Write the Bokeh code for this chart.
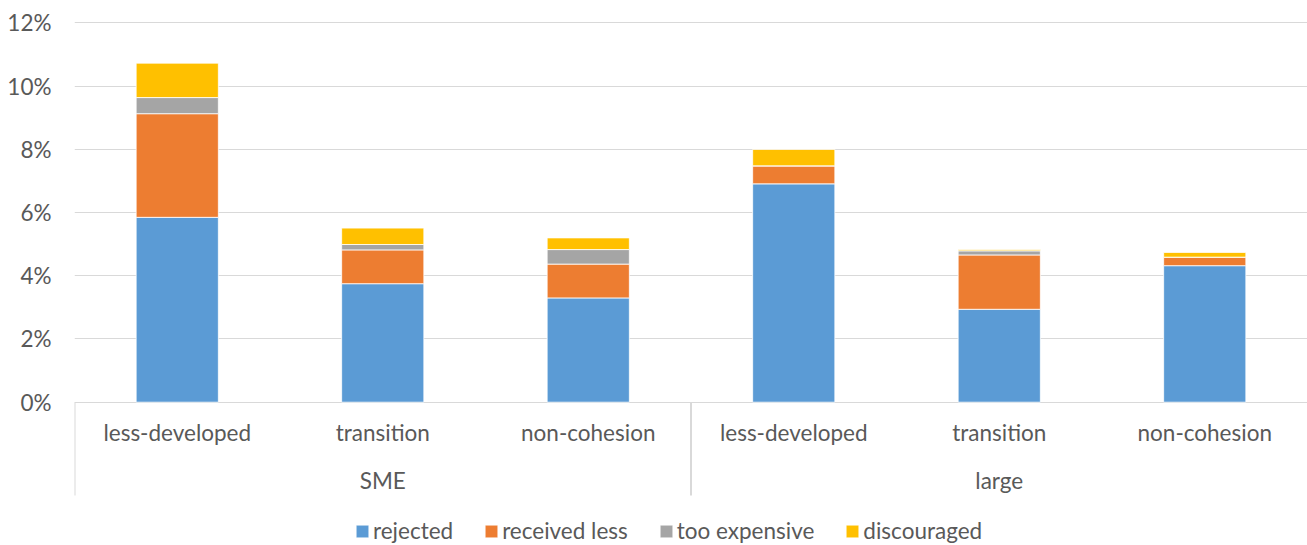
from bokeh.plotting import figure
from bokeh.models import (FactorRange, Range1d, FixedTicker, PrintfTickFormatter,
                          ColumnDataSource, Legend, LegendItem)
from bokeh.core.properties import value
from bokeh.embed import file_html
from bokeh.resources import INLINE

# Firm size groups and regional categories
groups = ["SME", "large"]
regions = ["less-developed", "transition", "non-cohesion"]

# Share of firms (%) by financing obstacle
series = ["rejected", "received less", "too expensive", "discouraged"]
rejected = [5.85, 3.75, 3.30, 6.91, 2.94, 4.32]
received_less = [3.28, 1.07, 1.07, 0.57, 1.72, 0.27]
too_expensive = [0.51, 0.17, 0.46, 0.00, 0.13, 0.00]
discouraged = [1.09, 0.52, 0.37, 0.52, 0.04, 0.15]

y_ticks = [0, 2, 4, 6, 8, 10, 12]

colors = ["#5B9BD5", "#ED7D31", "#A5A5A5", "#FFC000"]
TEXT = "#595959"
GRID = "#D9D9D9"
FONT = "Lato"
FS = "22.5px"

factors = [(g, r) for g in groups for r in regions]

source = ColumnDataSource(data=dict(
    x=factors,
    rejected=rejected,
    received_less=received_less,
    too_expensive=too_expensive,
    discouraged=discouraged,
))

x_range = FactorRange(*factors, range_padding=0, factor_padding=0,
                      group_padding=0, subgroup_padding=0)

p = figure(width=1307, height=545, x_range=x_range,
           y_range=Range1d(-4.535, 12.712),
           output_backend="svg", toolbar_location=None,
           min_border_left=74, min_border_right=0,
           min_border_top=0, min_border_bottom=0)
p.title.visible = False
p.outline_line_color = None
p.background_fill_color = "white"
p.border_fill_color = "white"

keys = ["rejected", "received_less", "too_expensive", "discouraged"]
renderers = p.vbar_stack(keys, x="x", width=0.4, source=source,
                         color=colors, line_color="white", line_width=0.8)

# Value axis with percent labels
p.yaxis.ticker = FixedTicker(ticks=y_ticks)
p.yaxis.formatter = PrintfTickFormatter(format="%d%%")
p.yaxis.axis_line_color = None
p.yaxis.major_tick_line_color = None
p.yaxis.major_tick_out = 0
p.yaxis.major_tick_in = 0
p.yaxis.minor_tick_line_color = None
p.yaxis.minor_tick_out = 0
p.yaxis.major_label_standoff = 23
p.yaxis.major_label_text_font = FONT
p.yaxis.major_label_text_font_size = FS
p.yaxis.major_label_text_color = TEXT

p.ygrid.ticker = FixedTicker(ticks=y_ticks)
p.ygrid.grid_line_color = GRID
p.ygrid.grid_line_width = 1.2
p.xgrid.visible = False
p.xaxis.visible = False

# Category labels below the baseline (two levels)
sub_src = ColumnDataSource(data=dict(x=factors, y=[-0.96] * len(factors),
                                     t=[r for _, r in factors]))
p.text(x="x", y="y", text="t", source=sub_src, text_align="center",
       text_baseline="middle", text_font=value(FONT),
       text_font_size=value(FS), text_color=TEXT)

grp_src = ColumnDataSource(data=dict(x=groups, y=[-2.48] * len(groups), t=groups))
p.text(x="x", y="y", text="t", source=grp_src, text_align="center",
       text_baseline="middle", text_font=value(FONT),
       text_font_size=value(FS), text_color=TEXT)

# Group separators on the category axis
sep_src = ColumnDataSource(data=dict(
    x=[("SME", "less-developed", -0.5), ("SME", "non-cohesion", 0.5)],
    y0=[0, 0], y1=[-2.95, -2.95]))
p.segment(x0="x", y0="y0", x1="x", y1="y1", source=sep_src,
          line_color=GRID, line_width=2)

legend = Legend(items=[LegendItem(label=s, renderers=[r])
                       for s, r in zip(series, renderers)],
                orientation="horizontal", location=(280, 1),
                glyph_width=16, glyph_height=16, label_standoff=3, spacing=30,
                padding=0, margin=0, border_line_color=None,
                background_fill_alpha=0,
                label_text_font=FONT, label_text_font_size=FS,
                label_text_color=TEXT)
p.add_layout(legend, "center")

open("out.html", "w").write(file_html(p, INLINE))
